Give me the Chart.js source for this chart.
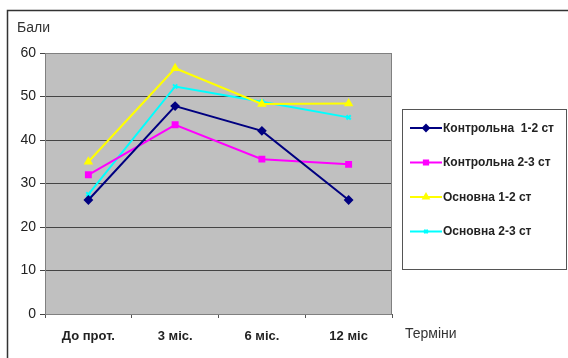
<!DOCTYPE html>
<html>
<head>
<meta charset="utf-8">
<script src="https://cdn.jsdelivr.net/npm/chart.js@4/dist/chart.umd.min.js"></script>
<style>
  html, body { margin: 0; padding: 0; background: #fff; }
  #wrap { width: 568px; height: 358px; position: relative; }
</style>
</head>
<body>
<div id="wrap"><canvas id="grafik" width="568" height="358"></canvas></div>
<script>
// Дані з графіка
const terminy = ['До прот.', '3 міс.', '6 міс.', '12 міс'];
const kontrolna12 = [26.2, 47.8, 42.1, 26.2];
const kontrolna23 = [32.0, 43.5, 35.6, 34.4];
const osnovna12 = [35.0, 56.5, 48.3, 48.4];
const osnovna23 = [27.5, 52.3, 48.8, 45.2];
const nazvySerij = ['Контрольна  1-2 ст', 'Контрольна 2-3 ст', 'Основна 1-2 ст', 'Основна 2-3 ст'];

const shryft = '"Liberation Sans", Arial, sans-serif';

// Фон області побудови, рамка, підписи осей і легенда
const oformlennia = {
    id: 'oformlennia',
    beforeDraw(chart) {
        const { ctx, chartArea: a } = chart;
        ctx.save();
        ctx.fillStyle = '#c0c0c0';
        ctx.fillRect(a.left, a.top, a.right - a.left, a.bottom - a.top);
        ctx.restore();
    },
    afterDraw(chart) {
        const { ctx, chartArea: a } = chart;
        ctx.save();
        // зовнішня рамка
        ctx.strokeStyle = '#333';
        ctx.lineWidth = 1.5;
        ctx.beginPath();
        ctx.moveTo(7.5, 360);
        ctx.lineTo(7.5, 10.5);
        ctx.lineTo(570, 10.5);
        ctx.stroke();
        // рамка області побудови
        ctx.strokeStyle = '#808080';
        ctx.lineWidth = 1;
        ctx.strokeRect(a.left + 0.5, a.top + 0.5, a.right - a.left - 1, a.bottom - a.top);

        ctx.fillStyle = '#333';
        ctx.font = '14px ' + shryft;
        ctx.textBaseline = 'middle';
        ctx.fillText('Бали', 17, 28);
        ctx.fillText('Терміни', 405, 334);

        // легенда
        const lx = 402, ly = 109, lw = 164, lh = 160;
        ctx.fillStyle = '#fff';
        ctx.fillRect(lx, ly, lw, lh);
        ctx.strokeStyle = '#555';
        ctx.lineWidth = 1;
        ctx.strokeRect(lx + 0.5, ly + 0.5, lw, lh);
        ctx.font = 'bold 12px ' + shryft;
        chart.data.datasets.forEach((ds, i) => {
            const y = 128 + i * 34.5;
            ctx.strokeStyle = ds.borderColor;
            ctx.lineWidth = 2;
            ctx.beginPath();
            ctx.moveTo(410, y);
            ctx.lineTo(442, y);
            ctx.stroke();
            ctx.fillStyle = ds.pointBackgroundColor;
            ctx.strokeStyle = ds.pointBorderColor;
            Chart.helpers.drawPoint(ctx, {
                pointStyle: ds.pointStyle,
                radius: ds.pointRadius - 0.5,
                borderWidth: 1,
                rotation: 0
            }, 426, y);
            ctx.fillStyle = '#222';
            ctx.fillText(ds.label, 443, y + 0.5);
        });
        ctx.restore();
    }
};

const seriia = (label, data, kolir, styl, r) => ({
    label,
    data,
    borderColor: kolir,
    backgroundColor: kolir,
    pointBackgroundColor: kolir,
    pointBorderColor: kolir,
    pointStyle: styl,
    pointRadius: r,
    pointHoverRadius: r,
    borderWidth: 2,
    tension: 0
});

new Chart(document.getElementById('grafik').getContext('2d'), {
    type: 'line',
    data: {
        labels: terminy,
        datasets: [
            seriia(nazvySerij[0], kontrolna12, '#000080', 'rectRot', 3.5),
            seriia(nazvySerij[1], kontrolna23, '#ff00ff', 'rect', 3.5),
            seriia(nazvySerij[2], osnovna12, '#ffff00', 'triangle', 3.5),
            seriia(nazvySerij[3], osnovna23, '#00ffff', 'crossRot', 3)
        ]
    },
    options: {
        responsive: false,
        animation: false,
        devicePixelRatio: 1,
        layout: { padding: { top: 53, left: 0, right: 176, bottom: 0 } },
        plugins: {
            legend: { display: false },
            tooltip: { enabled: false }
        },
        scales: {
            x: {
                offset: true,
                afterFit: (s) => { s.height = 44; },
                grid: {
                    offset: true,
                    drawOnChartArea: false,
                    drawTicks: true,
                    tickLength: 4,
                    color: '#555'
                },
                border: { color: '#555', width: 1 },
                ticks: {
                    padding: 11,
                    color: '#222',
                    font: { family: shryft, size: 13, weight: 'bold' }
                }
            },
            y: {
                min: 0,
                max: 60,
                afterFit: (s) => { s.width = 45; },
                grid: {
                    color: '#444',
                    lineWidth: 1,
                    tickLength: 5,
                    drawTicks: true
                },
                border: { color: '#808080' },
                ticks: {
                    stepSize: 10,
                    padding: 4,
                    color: '#222',
                    font: { family: shryft, size: 14 }
                }
            }
        }
    },
    plugins: [oformlennia]
});
</script>
</body>
</html>
